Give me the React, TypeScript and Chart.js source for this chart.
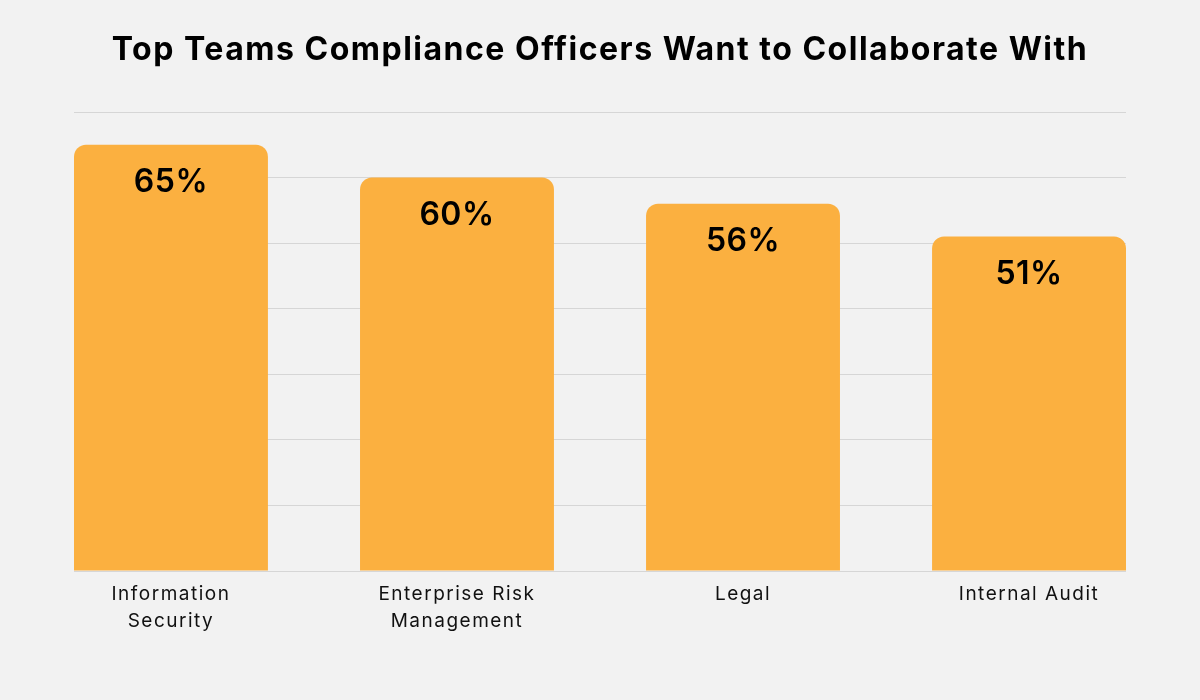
import { useEffect, useRef } from 'react';
import { Chart, registerables } from 'chart.js';

Chart.register(...registerables);

const chartTitle = 'Top Teams Compliance Officers Want to Collaborate With';
const categories = ['Information Security', 'Enterprise Risk Management', 'Legal', 'Internal Audit'];
const tickLabels = [['Information', 'Security'], ['Enterprise Risk', 'Management'], ['Legal'], ['Internal Audit']];
const shares = [65, 60, 56, 51];
const yMax = 70;
const yStep = 10;

const BAR_COLOR = '#FBB040';
const BG = '#F2F2F2';
const FONT = 'Inter, "Open Sans", sans-serif';

export default function App() {
  const ref = useRef<HTMLCanvasElement>(null);

  useEffect(() => {
    const canvas = ref.current;
    if (!canvas) return;

    const background = {
      id: 'background',
      beforeDraw(chart: any) {
        const ctx = chart.ctx;
        ctx.save();
        ctx.fillStyle = BG;
        ctx.fillRect(0, 0, chart.width, chart.height);
        ctx.restore();
        ctx.letterSpacing = '1.5px';
      },
      afterDraw(chart: any) {
        chart.ctx.letterSpacing = '0px';
      },
    };

    const titleText = {
      id: 'titleText',
      afterDraw(chart: any) {
        const ctx = chart.ctx;
        ctx.save();
        ctx.letterSpacing = '1.5px';
        ctx.font = `700 32px ${FONT}`;
        ctx.fillStyle = '#000';
        ctx.textAlign = 'center';
        ctx.textBaseline = 'middle';
        ctx.fillText(chartTitle, chart.width / 2, 50);
        ctx.restore();
      },
    };

    const valueLabels = {
      id: 'valueLabels',
      afterDatasetsDraw(chart: any) {
        const ctx = chart.ctx;
        const meta = chart.getDatasetMeta(0);
        ctx.save();
        ctx.letterSpacing = '0.5px';
        ctx.font = `600 32px ${FONT}`;
        ctx.fillStyle = '#000';
        ctx.textAlign = 'center';
        ctx.textBaseline = 'middle';
        meta.data.forEach((bar: any, i: number) => {
          ctx.fillText(`${shares[i]}%`, bar.x, bar.y + 38);
        });
        ctx.restore();
      },
    };

    const chart = new Chart(canvas, {
      type: 'bar',
      data: {
        labels: categories,
        datasets: [
          {
            label: 'Share of compliance officers',
            data: shares.map((v, i) => ({ x: i, y: v })),
            backgroundColor: BAR_COLOR,
            borderRadius: 12,
            categoryPercentage: 1,
            barPercentage: 0.678,
          },
        ],
      },
      options: {
        responsive: false,
        animation: false,
        layout: { padding: { top: 112, left: 74, right: 74, bottom: 0 } },
        plugins: {
          legend: { display: false },
          tooltip: { enabled: false },
          title: { display: false },
        },
        scales: {
          x: {
            type: 'linear',
            offset: false,
            bounds: 'data',
            min: -0.339,
            max: 3.339,
            grid: { display: false, drawTicks: false, offset: false },
            border: { display: false },
            afterFit(scale: any) {
              scale.height = 129;
            },
            afterBuildTicks(scale: any) {
              scale.ticks = categories.map((_, i) => ({ value: i }));
            },
            ticks: {
              padding: 10,
              maxRotation: 0,
              autoSkip: false,
              color: '#111',
              font: { family: FONT, size: 19, weight: 400, lineHeight: 1.4 },
              callback: (v: any) => tickLabels[Number(v)] ?? '',
            },
          },
          y: {
            min: 0,
            max: yMax,
            grid: { color: '#D6D6D6', lineWidth: 1, drawTicks: false },
            border: { display: false },
            ticks: { display: false, stepSize: yStep },
            afterFit(scale: any) {
              scale.width = 0;
            },
          },
        },
      },
      plugins: [background, titleText, valueLabels],
    });

    return () => chart.destroy();
  }, []);

  return (
    <div style={{ position: 'absolute', left: 0, top: 0, width: 1200, height: 700, background: BG }}>
      <canvas ref={ref} width={1200} height={700} />
    </div>
  );
}
